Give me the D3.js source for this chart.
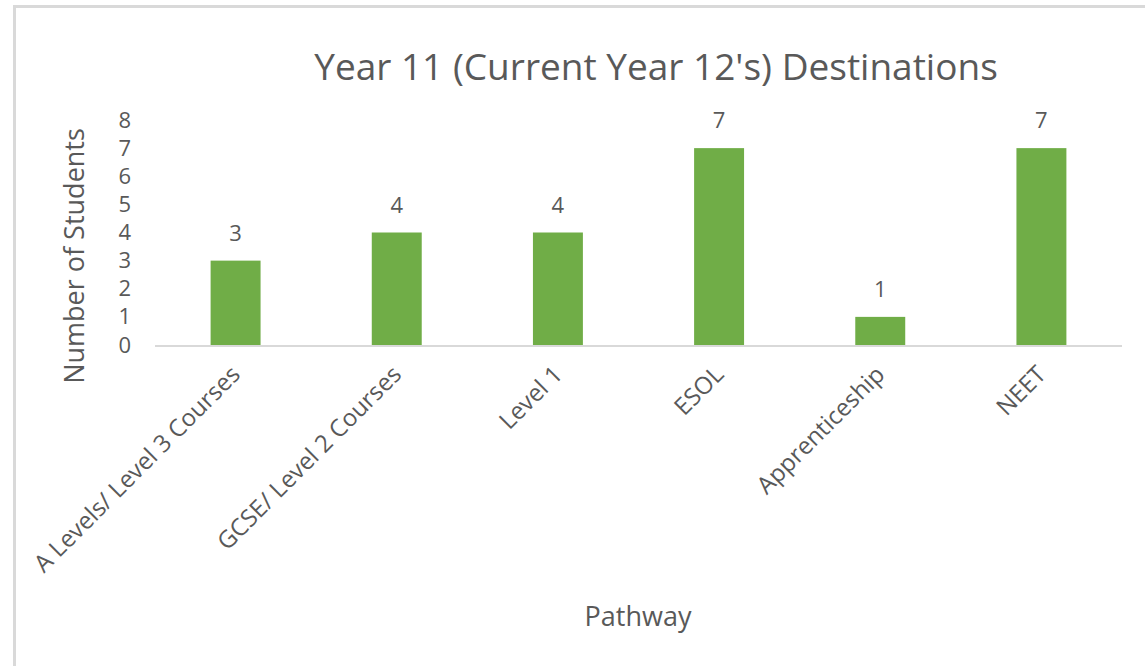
<!DOCTYPE html>
<html>
<head>
<meta charset="utf-8">
<script src="https://cdn.jsdelivr.net/npm/d3@7"></script>
<style>
  body { margin: 0; background: #fff; }
  text { font-family: "Open Sans", sans-serif; fill: #595959; }
</style>
</head>
<body>
<svg width="1145" height="666"></svg>
<script>
// data
const categories = ['A Levels/ Level 3 Courses', 'GCSE/ Level 2 Courses', 'Level 1', 'ESOL', 'Apprenticeship', 'NEET'];
const students = [3, 4, 4, 7, 1, 7];
const yTicks = [0, 1, 2, 3, 4, 5, 6, 7, 8];

const svg = d3.select('svg');

// chart frame (right and bottom sides fall outside the picture)
svg.append('rect')
    .attr('x', 14.5).attr('y', 6.5)
    .attr('width', 1200).attr('height', 700)
    .attr('fill', 'none')
    .attr('stroke', '#d9d9d9')
    .attr('stroke-width', 3);

const x = d3.scaleBand()
    .domain(categories)
    .range([155, 1122])
    .paddingInner(0.69)
    .paddingOuter(0.345);

const y = d3.scaleLinear()
    .domain([0, 8])
    .range([345, 120]);

// title
svg.append('text')
    .attr('x', 656).attr('y', 80)
    .attr('text-anchor', 'middle')
    .style('font-size', '37px')
    .text("Year 11 (Current Year 12's) Destinations");

// y axis labels
const yAxis = svg.append('g')
    .attr('transform', 'translate(131,0)')
    .call(d3.axisLeft(y).tickValues(yTicks).tickSize(0).tickPadding(0));
yAxis.select('.domain').remove();
yAxis.selectAll('text')
    .style('font-size', '22px')
    .attr('fill', '#595959');

// bars
svg.append('g').selectAll('rect')
  .data(students)
  .join('rect')
    .attr('x', (d, i) => x(categories[i]))
    .attr('y', d => y(d))
    .attr('width', x.bandwidth())
    .attr('height', d => y(0) - y(d))
    .attr('fill', '#70ad47');

// baseline
svg.append('line')
    .attr('x1', x.range()[0]).attr('x2', x.range()[1])
    .attr('y1', y(0) + 1).attr('y2', y(0) + 1)
    .attr('stroke', '#d9d9d9')
    .attr('stroke-width', 2);

// data labels
svg.append('g').selectAll('text')
  .data(students)
  .join('text')
    .attr('x', (d, i) => x(categories[i]) + x.bandwidth() / 2)
    .attr('y', d => y(d) - 20)
    .attr('text-anchor', 'middle')
    .style('font-size', '22px')
    .text(d => d);

// x axis labels, rotated
svg.append('g').selectAll('text')
  .data(categories)
  .join('text')
    .attr('transform', d => `translate(${x(d) + x.bandwidth() / 2 + 6},${376}) rotate(-45)`)
    .attr('text-anchor', 'end')
    .style('font-size', '24px')
    .text(d => d);

// axis titles
svg.append('text')
    .attr('transform', 'translate(84,256) rotate(-90)')
    .attr('text-anchor', 'middle')
    .style('font-size', '27px')
    .text('Number of Students');

svg.append('text')
    .attr('x', 638).attr('y', 626)
    .attr('text-anchor', 'middle')
    .style('font-size', '27px')
    .text('Pathway');
</script>
</body>
</html>
